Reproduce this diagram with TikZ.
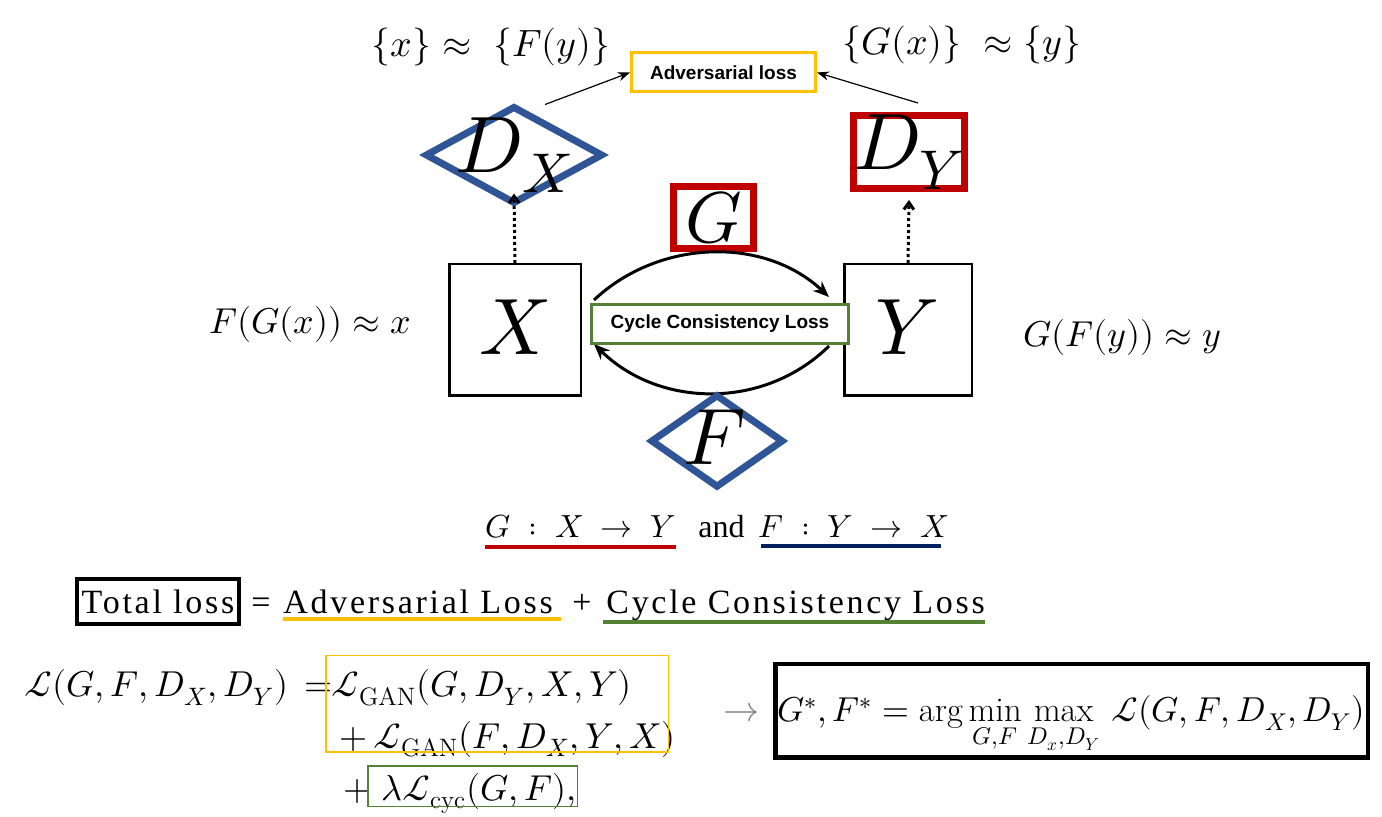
\documentclass[tikz,border=0pt]{standalone}
\usepackage{fontspec}
\usepackage{unicode-math}
\setmathfont{Latin Modern Math}
\usetikzlibrary{shapes.geometric,arrows.meta,calc}
\newfontfamily\sansfam{Liberation Sans}
\newfontfamily\tnr{Liberation Serif}[LetterSpace=8]
\newfontfamily\tnrplain{Liberation Serif}
\newcommand\fsz[1]{\fontsize{#1}{#1}\selectfont}
\definecolor{cOrange}{HTML}{FFC000}
\definecolor{cRed}{HTML}{C00000}
\definecolor{cBlue}{HTML}{2F5597}
\definecolor{cGreen}{HTML}{548235}
\definecolor{cNavy}{HTML}{002060}
\definecolor{cGray}{HTML}{7F7F7F}
\begin{document}
\begin{tikzpicture}[x=0.5pt,y=-0.5pt,
  boxshape/.style={draw,rectangle,inner sep=0pt,anchor=center},
  redbox/.style={boxshape,draw=cRed,line width=3.5pt},
  bluedia/.style={diamond,draw=cBlue,line width=3.5pt,inner sep=0pt,anchor=center},
  blackbox/.style={boxshape,draw=black,line width=1.25pt},
  lossbox/.style={boxshape,line width=1.5pt,font=\sansfam\bfseries\fsz{9.5}},
  bigmath/.style={inner sep=0pt,font=\fsz{40}},
  midmath/.style={inner sep=0pt,font=\fsz{19}},
  eqmath/.style={inner sep=0pt,font=\fsz{18}},
  mapmath/.style={inner sep=0pt,font=\fsz{16},anchor=base west},
  serifline/.style={inner sep=0pt,font=\tnr\fsz{17}},
  thinarrow/.style={-{Stealth[length=6pt,width=4.5pt]},line width=0.6pt},
  arcarrow/.style={-{Stealth[length=8pt,width=6.5pt]},line width=1.5pt},
  dotarrow/.style={-{Straight Barb[length=3.5pt,width=5pt]},line width=1.5pt,dash pattern=on 1.5pt off 1.5pt}
]
\useasboundingbox (0,0) rectangle (1382,817);
\fill[white] (0,0) rectangle (1382,817);

% top formulas
\node[midmath] (fx) at (491,47) {$\{x\}\approx\ \{F(y)\}$};
\node[midmath] (gx) at (962,45) {$\{G(x)\}\ \approx\{y\}$};

% adversarial loss box
\node[lossbox,draw=cOrange,minimum width=92pt,minimum height=19.5pt] (adv) at (723.5,72.5) {Adversarial loss};

% discriminators
\node[bluedia,minimum width=89pt,minimum height=49pt] (dx) at (514,155) {};
\node[bigmath] (dxt) at (dx.center) {$D_X$};
\node[redbox,minimum width=55.5pt,minimum height=36.5pt] (dy) at (909,152) {};
\node[bigmath] (dyt) at (dy.center) {$D_Y$};

% G box
\node[redbox,minimum width=40pt,minimum height=31pt] (g) at (713.5,217.5) {};
\node[bigmath,font=\fsz{36}] (gt) at (g.center) {$G$};

% X and Y boxes
\node[blackbox,minimum width=65.75pt,minimum height=65.75pt] (xb) at (515,330) {};
\node[bigmath] (xt) at (515,327) {$X$};
\node[blackbox,minimum width=63.75pt,minimum height=65.75pt] (yb) at (908,330) {};
\node[bigmath] (yt) at (907,327) {$Y$};

% cycle arcs
\draw[arcarrow] ($(xb.east)+(12,-30)$) .. controls +(65,-61) and +(-65,-61) .. ($(yb.west)+(-14,-33)$);
\draw[arcarrow] ($(yb.west)+(-14,16)$) .. controls +(-65,64) and +(65,64) .. ($(xb.east)+(12,14)$);

% cycle consistency box
\node[lossbox,draw=cGreen,fill=white,minimum width=128.5pt,minimum height=19.5pt] (cyc) at (720,324) {Cycle Consistency Loss};

% F diamond
\node[bluedia,minimum width=66.5pt,minimum height=46.7pt] (f) at (717,441) {};
\node[bigmath] (ft) at (715,437) {$F$};

% dotted arrows
\draw[dotarrow] (xb.north) -- ($(dx.south)+(0,-14)$);
\draw[dotarrow] (yb.north) -- ($(dy.south)+(0,8)$);

% adversarial arrows
\draw[thinarrow] ($(dx.north)+(31,2)$) -- (adv.west);
\draw[thinarrow] ($(dy.north)+(9,-9)$) -- (adv.east);

% side formulas
\node[eqmath] (fg) at (310,325) {$F(G(x))\approx x$};
\node[eqmath] (gf) at (1122,338) {$G(F(y))\approx y$};

% mapping line
\node[mapmath] (m1) at (485,538) {$G\;:\;X\;\rightarrow\;Y$};
\node[mapmath,font=\tnrplain\fsz{16}] (mand) at (698,538) {and};
\node[mapmath] (m2) at (758,538) {$F\;:\;Y\;\rightarrow\;X$};
\draw[cRed,line width=2pt] ($(m1.base west)+(0,9)$) -- ($(m1.base east)+(0,9)$);
\draw[cNavy,line width=2pt] ($(m2.base west)+(3,8)$) -- ($(m2.base east)+(-8,8)$);

% total loss line
\node[boxshape,line width=2pt,minimum width=81pt,minimum height=22.5pt,font=\tnr\fsz{17}] (tl) at (158,601.5) {Total loss};
\node[serifline,anchor=base] (eqs) at (261,614) {=};
\node[serifline,anchor=base west] (al) at (283,614) {Adversarial Loss};
\node[serifline,anchor=base] (pl) at (582,614) {+};
\node[serifline,anchor=base west] (cl) at (606,614) {Cycle Consistency Loss};
\draw[cOrange,line width=2.25pt] ($(al.base west)+(0,5)$) -- ($(al.base east)+(8,5)$);
\draw[cGreen,line width=2.25pt] ($(cl.base west)+(-3,8)$) -- ($(cl.base east)+(0,8)$);

% equation
\node[eqmath,anchor=base east] (eqL) at (333,697) {$\mathcal{L}(G,F,D_X,D_Y)\,=$};
\node[eqmath,anchor=base west] (eq1) at (331,697) {$\mathcal{L}_{\mathrm{GAN}}(G,D_Y,X,Y)$};
\node[eqmath,anchor=base west] (eq2) at (339,748) {$+\,\mathcal{L}_{\mathrm{GAN}}(F,D_X,Y,X)$};
\node[eqmath,anchor=base west] (eq3) at (343,800) {$+\;\lambda\mathcal{L}_{\mathrm{cyc}}(G,F),$};
\node[boxshape,draw=cOrange,line width=0.75pt,minimum width=171.25pt,minimum height=48.25pt] (ob) at (497,704) {};
\node[boxshape,draw=cGreen,line width=0.75pt,minimum width=104.75pt,minimum height=20.25pt] (gb) at (472.5,786) {};

% result
\node[eqmath,text=cGray] (ar) at (741,712) {$\rightarrow$};
\node[boxshape,line width=2.25pt,minimum width=296.25pt,minimum height=46.75pt] (rb) at (1071.5,711) {};
\node[eqmath,anchor=base,font=\fsz{17.3}] (res) at (1071,722) {$\displaystyle G^*,F^*=\arg\min_{G,F}\max_{D_x,D_Y}\,\mathcal{L}(G,F,D_X,D_Y)$};
\end{tikzpicture}
\end{document}
